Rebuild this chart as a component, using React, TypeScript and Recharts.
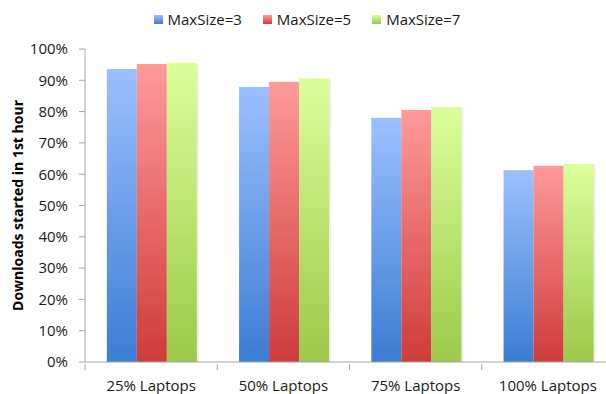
import { Bar, BarChart, Legend, XAxis, YAxis } from "recharts";

const categories = ["25% Laptops", "50% Laptops", "75% Laptops", "100% Laptops"];
const maxSize3 = [93.6, 87.9, 78.0, 61.3];
const maxSize5 = [95.2, 89.5, 80.5, 62.7];
const maxSize7 = [95.6, 90.6, 81.5, 63.3];
const yTicks = [0, 10, 20, 30, 40, 50, 60, 70, 80, 90, 100];

const seriesList = [
  { key: "m3", name: "MaxSize=3", top: "#9cc0ff", bottom: "#3b7dd3" },
  { key: "m5", name: "MaxSize=5", top: "#ff9a9a", bottom: "#cf3b3b" },
  { key: "m7", name: "MaxSize=7", top: "#dbff9a", bottom: "#9cc949" },
];

const data = categories.map((name, i) => ({
  name,
  m3: maxSize3[i],
  m5: maxSize5[i],
  m7: maxSize7[i],
}));

const FONT = "'Open Sans', sans-serif";
const AXIS = "#a6a6a6";
const CHART_W = 620;
const PLOT_LEFT = 85;
const PLOT_RIGHT = 6;
const BAND = (CHART_W - PLOT_LEFT - PLOT_RIGHT) / categories.length;

function CategoryTick(props: any) {
  const { x, y, payload } = props;
  const edge = x - BAND / 2;
  return (
    <g>
      <line x1={edge} y1={y} x2={edge} y2={y + 6} stroke={AXIS} />
      <text x={x} y={y + 26.5} textAnchor="middle" fontSize={15} fill="#1a1a1a" fontFamily={FONT}>
        {payload.value}
      </text>
    </g>
  );
}

// bar with a faint drop shadow on its right edge
function ShadedBar(props: any) {
  const { x, y, width, height, fill } = props;
  if (!height || height <= 0) return null;
  return (
    <g>
      <rect x={x + 2} y={y + 1} width={width} height={height - 1} fill="#000" fillOpacity={0.07} />
      <rect x={x} y={y} width={width} height={height} fill={fill} />
    </g>
  );
}

function LegendRow() {
  return (
    <div
      style={{
        height: 30,
        display: "flex",
        justifyContent: "center",
        alignItems: "center",
        gap: 21,
        fontFamily: FONT,
        fontSize: 15,
        color: "#1a1a1a",
      }}
    >
      {seriesList.map((s) => (
        <div key={s.key} style={{ display: "flex", alignItems: "center", gap: 5 }}>
          <span
            style={{
              width: 9,
              height: 9,
              display: "inline-block",
              background: `linear-gradient(${s.top}, ${s.bottom})`,
            }}
          />
          <span>{s.name}</span>
        </div>
      ))}
    </div>
  );
}

function AxisTitle(props: any) {
  const { viewBox } = props;
  const cy = viewBox.y + viewBox.height / 2;
  return (
    <text
      x={17}
      y={cy}
      transform={`rotate(-90, 17, ${cy})`}
      textAnchor="middle"
      dominantBaseline="central"
      fontSize={14}
      fontWeight="bold"
      fill="#000"
      fontFamily={FONT}
    >
      Downloads started in 1st hour
    </text>
  );
}

export default function App() {
  return (
    <div style={{ position: "absolute", left: 0, top: 0, width: 606, height: 394, overflow: "hidden", background: "#fff" }}>
      <BarChart
        width={CHART_W}
        height={394}
        data={data}
        margin={{ top: 19, right: PLOT_RIGHT, left: 0, bottom: 0 }}
        barCategoryGap="16.5%"
        barGap={0}
      >
        <defs>
          {seriesList.map((s) => (
            <linearGradient key={s.key} id={`grad-${s.key}`} x1="0" y1="0" x2="0" y2="1">
              <stop offset="0%" stopColor={s.top} />
              <stop offset="100%" stopColor={s.bottom} />
            </linearGradient>
          ))}
        </defs>
        <Legend verticalAlign="top" content={() => <LegendRow />} wrapperStyle={{ top: 4 }} />
        <XAxis
          dataKey="name"
          stroke={AXIS}
          tickLine={false}
          tickSize={0}
          tick={<CategoryTick />}
          interval={0}
          height={32}
        />
        <YAxis
          domain={[0, 100]}
          ticks={yTicks}
          tickFormatter={(v: number) => `${v}%`}
          stroke={AXIS}
          tickSize={6}
          tickMargin={11}
          width={PLOT_LEFT}
          tick={{ fill: "#1a1a1a", fontSize: 15, fontFamily: FONT }}
          label={{ content: <AxisTitle /> }}
        />
        {seriesList.map((s) => (
          <Bar
            key={s.key}
            dataKey={s.key}
            name={s.name}
            fill={`url(#grad-${s.key})`}
            shape={<ShadedBar />}
            isAnimationActive={false}
          />
        ))}
      </BarChart>
    </div>
  );
}
